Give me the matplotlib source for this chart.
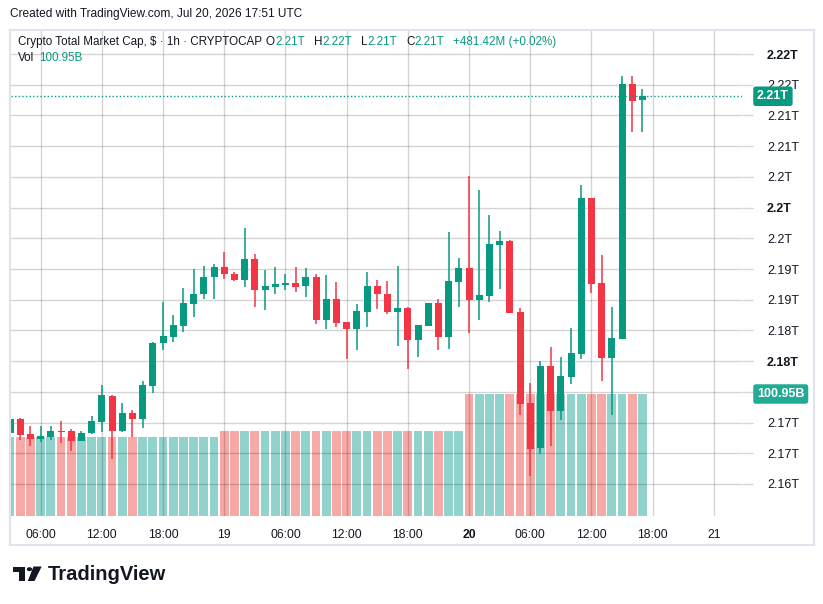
import numpy as np
import matplotlib
matplotlib.use('Agg')
import matplotlib.pyplot as plt
import matplotlib.transforms as mtransforms
from matplotlib.patches import Rectangle, Polygon, Circle

plt.rcParams['font.family'] = ['Liberation Sans', 'DejaVu Sans']

# hourly candles, Jul 18 03:00 .. Jul 20 17:00 (hours counted from Jul 18 00:00)
hours = list(range(3, 66))
# prices in billions of USD
opens = [2170.7, 2172.5, 2170.5, 2169.9, 2170.1, 2170.9, 2170.9, 2169.6, 2170.6, 2172.1,
         2175.5, 2170.9, 2173.2, 2172.4, 2176.8, 2182.3, 2183.2, 2184.6, 2187.5, 2188.7,
         2190.9, 2192.3, 2191.4, 2190.6, 2193.3, 2189.3, 2189.7, 2189.9, 2190.2, 2189.8,
         2191.0, 2185.3, 2188.1, 2185.1, 2184.2, 2186.4, 2189.8, 2188.7, 2186.4, 2186.9,
         2182.7, 2184.6, 2187.6, 2183.2, 2190.3, 2192.1, 2188.0, 2188.5, 2195.1, 2195.7,
         2186.4, 2174.6, 2168.7, 2179.4, 2173.5, 2177.9, 2180.9, 2201.3, 2190.2, 2180.4,
         2182.9, 2216.1, 2214.0]
highs = [2172.6, 2172.6, 2171.6, 2171.6, 2171.6, 2172.2, 2171.2, 2170.9, 2172.9, 2176.9,
         2175.6, 2174.6, 2173.6, 2177.4, 2182.5, 2187.7, 2186.0, 2189.5, 2192.0, 2192.4,
         2192.7, 2194.2, 2191.6, 2197.3, 2194.0, 2191.9, 2192.3, 2191.4, 2192.3, 2192.1,
         2191.4, 2191.2, 2190.3, 2185.1, 2187.5, 2191.6, 2190.6, 2190.4, 2192.4, 2187.1,
         2184.7, 2187.6, 2188.1, 2196.8, 2193.4, 2204.1, 2202.3, 2199.0, 2197.0, 2195.8,
         2186.9, 2177.2, 2180.0, 2181.8, 2180.5, 2184.3, 2202.9, 2201.3, 2193.8, 2187.1,
         2217.1, 2217.1, 2215.5]
lows = [2170.6, 2169.7, 2169.0, 2169.5, 2169.7, 2169.4, 2168.3, 2169.6, 2170.5, 2170.8,
        2167.3, 2170.8, 2170.1, 2171.3, 2175.9, 2181.5, 2182.5, 2183.8, 2185.7, 2188.1,
        2188.1, 2190.7, 2190.4, 2189.7, 2187.0, 2186.6, 2188.7, 2189.3, 2189.0, 2188.3,
        2184.9, 2184.2, 2184.5, 2180.3, 2181.4, 2184.5, 2186.8, 2186.2, 2182.0, 2179.0,
        2180.5, 2184.6, 2181.5, 2181.6, 2187.1, 2183.7, 2185.4, 2187.7, 2189.4, 2186.3,
        2173.0, 2165.0, 2167.9, 2169.0, 2172.3, 2177.0, 2180.3, 2188.9, 2177.4, 2173.0,
        2182.9, 2209.8, 2209.8]
closes = [2172.5, 2170.4, 2169.9, 2170.3, 2170.9, 2170.8, 2169.6, 2170.6, 2172.2, 2175.6,
          2170.9, 2173.2, 2172.4, 2176.9, 2182.4, 2183.3, 2184.7, 2187.6, 2188.7, 2191.0,
          2192.3, 2191.3, 2190.6, 2193.3, 2189.3, 2189.8, 2190.1, 2190.2, 2189.7, 2191.0,
          2185.3, 2188.1, 2185.0, 2184.2, 2186.5, 2189.8, 2188.7, 2186.4, 2186.9, 2182.7,
          2184.7, 2187.6, 2183.2, 2190.4, 2192.1, 2188.0, 2188.6, 2195.3, 2195.7, 2186.3,
          2174.4, 2168.6, 2179.4, 2173.5, 2178.1, 2181.1, 2201.3, 2190.1, 2180.4, 2183.0,
          2216.1, 2213.9, 2214.5]
# volume in billions (one value per day)
volumes = [65.4] * 21 + [70.3] * 24 + [100.95] * 18

price_ticks = [2164, 2168, 2172, 2176, 2180, 2184, 2188, 2192, 2196, 2200, 2204, 2208, 2212, 2216, 2220]
time_ticks = [6, 12, 18, 24, 30, 36, 42, 48, 54, 60, 66, 72]
time_labels = ['06:00', '12:00', '18:00', '19', '06:00', '12:00', '18:00', '20', '06:00', '12:00', '18:00', '21']

W, H = 823, 604
UP, DOWN = '#089981', '#F23645'
VUP, VDOWN = '#92D2CC', '#F7A9A7'
TXT = '#131722'


def fx(x):
    return x / W


def fy(y):
    return 1 - y / H


fig = plt.figure(figsize=(W / 100, H / 100), dpi=100)

ax_v = fig.add_axes([fx(11), fy(516), 731 / W, 486 / H])
ax = ax_v.twinx()

# volume
vcols = [VUP if c >= o else VDOWN for o, c in zip(opens, closes)]
ax_v.bar(hours, volumes, width=0.86, color=vcols, zorder=1)
ax_v.set_ylim(0, 100.95 * 486 / 122)
ax_v.set_yticks([])
ax_v.set_xlim(3.09, 74.76)

# candles
for h, o, hi, lo, c in zip(hours, opens, highs, lows, closes):
    col = UP if c >= o else DOWN
    ax.vlines(h, lo, hi, color=col, lw=1.1, zorder=3)
    ax.bar(h, max(abs(c - o), 0.15), bottom=min(o, c), width=0.68, color=col, zorder=4)

ax.set_ylim(2159.83, 2223.13)
ax.set_yticks(price_ticks)
ax.set_yticklabels([('%.2f' % (v / 1000)).rstrip('0').rstrip('.') + 'T' if v != 2176 else ''
                    for v in price_ticks])
for lbl, v in zip(ax.get_yticklabels(), price_ticks):
    lbl.set_color(TXT)
    if v in (2180, 2200, 2220):
        lbl.set_fontweight('bold')
ax.tick_params(axis='y', length=8, width=1, color='#d6d6d6', pad=10, labelsize=9)

ax_v.set_xticks(time_ticks)
ax_v.set_xticklabels(time_labels)
ax_v.tick_params(axis='x', length=0, pad=9, labelsize=8.8, labelcolor=TXT)
for lbl, t in zip(ax_v.get_xticklabels(), time_labels):
    if t == '20':
        lbl.set_fontweight('bold')

ax.set_axisbelow(True)
ax.grid(True, axis='y', color='black', alpha=0.17, lw=1)
ax_v.grid(False)
for t in time_ticks:
    ax.axvline(t, color='black', alpha=0.17, lw=1, zorder=2)

for a in (ax, ax_v):
    for s in a.spines.values():
        s.set_visible(False)

# last price line and labels
last = closes[-1]
ax.axhline(last, color=UP, ls=(0, (1, 1.6)), lw=1, zorder=5)
ax.text(1 + 15 / 731, last, ('%.2f' % (last / 1000)) + 'T', transform=ax.get_yaxis_transform(),
        ha='left', va='center', color='white', fontsize=9, fontweight='bold', zorder=10,
        clip_on=False, bbox=dict(boxstyle='round,pad=0.3,rounding_size=0.2', fc=UP, ec='none'))
vtrans = mtransforms.blended_transform_factory(ax.transAxes, ax_v.transData)
ax.text(1 + 15 / 731, volumes[-1], '%.2fB' % volumes[-1], transform=vtrans,
        ha='left', va='center', color='white', fontsize=9, fontweight='bold', zorder=10,
        clip_on=False, bbox=dict(boxstyle='round,pad=0.3,rounding_size=0.2', fc='#22AB94', ec='none'))

# frame
fig.add_artist(Rectangle((fx(10), fy(545)), 804 / W, 515 / H, transform=fig.transFigure,
                         fill=False, ec='#e0e3eb', lw=1.5))

# header texts
fig.text(fx(10), fy(14), 'Created with TradingView.com, Jul 20, 2026 17:51 UTC',
         fontsize=8.6, color=TXT, va='center')

r = fig.canvas.get_renderer()
pieces = [('Crypto Total Market Cap, $ · 1h · CRYPTOCAP', TXT, 4),
          ('O', TXT, 0), ('2.21T', UP, 9), ('H', TXT, 0), ('2.22T', UP, 9),
          ('L', TXT, 0), ('2.21T', UP, 9), ('C', TXT, 0), ('2.21T', UP, 9),
          ('+481.42M (+0.02%)', UP, 0)]
x = 18
for s, c, gap in pieces:
    t = fig.text(fx(x), fy(42), s, fontsize=8.4, color=c, va='center')
    x = t.get_window_extent(r).x1 + gap
t = fig.text(fx(18), fy(58), 'Vol', fontsize=8.4, color=TXT, va='center')
fig.text(fx(t.get_window_extent(r).x1 + 5), fy(58), '100.95B', fontsize=8.4, color=UP, va='center')

# logo
logo = '#131722'
fig.add_artist(Polygon([(fx(12.7), fy(566.5)), (fx(25), fy(566.5)), (fx(25), fy(581)),
                        (fx(18.5), fy(581)), (fx(18.5), fy(571.5)), (fx(12.7), fy(571.5))],
                       closed=True, transform=fig.transFigure, fc=logo, ec='none'))
fig.add_artist(Circle((fx(29.5), fy(569.2)), 2.7 / W, transform=fig.transFigure, fc=logo, ec='none'))
fig.add_artist(Polygon([(fx(33.5), fy(566.5)), (fx(41.7), fy(566.5)), (fx(34.5), fy(581)),
                        (fx(27.8), fy(581))], closed=True, transform=fig.transFigure, fc=logo, ec='none'))
fig.text(fx(48), fy(574), 'TradingView', fontsize=14.5, fontweight='bold', color=logo, va='center')

fig.savefig('out.png', dpi=100)
